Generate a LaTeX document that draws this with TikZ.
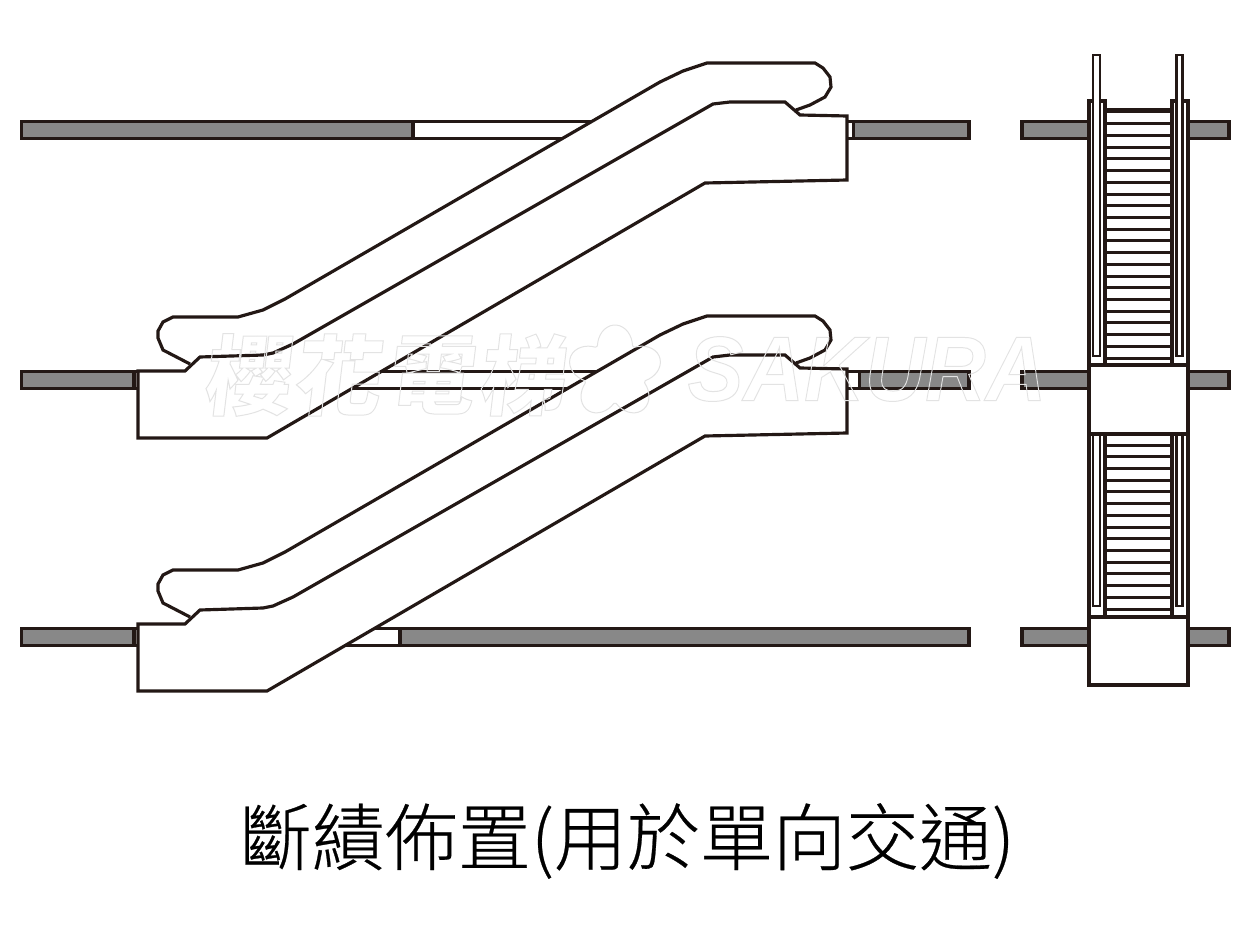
\documentclass[tikz,border=0pt]{standalone}
\usepackage{fontspec}
\newfontfamily\cjkfont{Noto Sans CJK TC}
\newfontfamily\cjklight{Noto Sans CJK TC Light}[FakeBold=0.35]
\newfontfamily\wmlat{Liberation Sans}[BoldFont={Liberation Sans Bold},ItalicFont={Liberation Sans Italic},BoldItalicFont={Liberation Sans Bold Italic}]
\definecolor{ink}{HTML}{231815}
\definecolor{slabgrey}{HTML}{888888}
\definecolor{wmgrey}{HTML}{E2E2E2}
\newcommand{\outlined}[1]{\special{pdf:code 1 Tr 0.6 w 0.89 G}#1\special{pdf:code 0 Tr}}
\tikzset{
  px/.style={x=0.6pt,y=-0.6pt},
  line/.style={draw=ink,line width=1.9pt,line join=miter,miter limit=3},
  slabbar/.style={line,fill=slabgrey},
  gapbar/.style={line,fill=white},
  bodyfill/.style={line,fill=white},
  railbar/.style={draw=ink,line width=1.75pt,fill=white},
  stepline/.style={draw=ink,line width=1.8pt},
  wmark/.style={inner sep=0pt},
  wmline/.style={draw=wmgrey,line width=0.6pt}
}
% one escalator in side view, #1 = vertical offset
\newcommand{\escalator}[1]{%
\begin{scope}[yshift=#1*-0.6pt]
  \path[line,fill=white] (190,364) -- (163,350) -- (158,338) -- (158,331) -- (163,322) -- (173,317) -- (238,317) -- (263,310) -- (285,299) -- (660,82) -- (683,71) -- (707,63) -- (815,63) -- (823,68) -- (830,77) -- (831,87) -- (825,97) -- (810,105) -- (796,110);
  \path[bodyfill] (138,371) -- (185,371) -- (200,357) -- (263,355) -- (273,353) -- (293,344) -- (713,104) -- (730,102) -- (785,102) -- (800,115) -- (847,116) -- (847,180) -- (705,183) -- (267,438) -- (138,438) -- cycle;
\end{scope}}
\newcommand{\slabs}[1]{%
  \path[slabbar] (1022,#1) rectangle (1089,#1+17);
  \path[slabbar] (1188,#1) rectangle (1229,#1+17);
}
\begin{document}
\begin{tikzpicture}[px]
\useasboundingbox (0,0) rectangle (1250,939);
% floor slabs, side view
\path[slabbar] (21.5,121.5) rectangle (413,138.5);
\path[gapbar] (413,121.5) rectangle (620,138.5);
\path[gapbar] (840,121.5) rectangle (853.5,138.5);
\path[slabbar] (853.5,121.5) rectangle (969,138.5);
\path[slabbar] (21.5,371.5) rectangle (134,388.5);
\path[gapbar] (134,371.5) rectangle (145,388.5);
\path[gapbar] (300,371.5) rectangle (700,388.5);
\path[gapbar] (840,371.5) rectangle (859.5,388.5);
\path[slabbar] (859.5,371.5) rectangle (969,388.5);
\path[slabbar] (21.5,628.5) rectangle (134,645.5);
\path[gapbar] (134,628.5) rectangle (145,645.5);
\path[gapbar] (300,628.5) rectangle (400,645.5);
\path[slabbar] (400,628.5) rectangle (969,645.5);
\escalator{0}
\escalator{253}
% front view
\slabs{121.5}
\slabs{371.5}
\slabs{628.5}
\path[bodyfill] (1089,101) rectangle (1105,365);
\path[bodyfill] (1172,101) rectangle (1188,365);
\path[bodyfill] (1105,110) rectangle (1172,365);
\foreach \i in {0,...,21} \draw[stepline] (1105,112+11.72*\i) -- (1172,112+11.72*\i);
\path[railbar] (1093,55) rectangle (1100,356);
\path[railbar] (1176.2,55) rectangle (1182.8,356);
\path[bodyfill] (1089,434) rectangle (1105,617);
\path[bodyfill] (1172,434) rectangle (1188,617);
\foreach \i in {0,...,14} \draw[stepline] (1105,445+11.72*\i) -- (1172,445+11.72*\i);
\path[railbar] (1093,434) rectangle (1100,606);
\path[railbar] (1176.2,434) rectangle (1182.8,606);
\path[bodyfill] (1089,365) rectangle (1188,434);
\path[bodyfill] (1089,617) rectangle (1188,685);
% watermark
\node[wmark,xslant=.12] (w1) at (250,375) {\cjkfont\bfseries\fontsize{52pt}{52pt}\selectfont\outlined{櫻}};
\node[wmark,xslant=.12] (w2) at (340,375) {\cjkfont\bfseries\fontsize{52pt}{52pt}\selectfont\outlined{花}};
\node[wmark,xslant=.12] (w3) at (433,375) {\cjkfont\bfseries\fontsize{52pt}{52pt}\selectfont\outlined{電}};
\node[wmark,xslant=.12] (w4) at (525,375) {\cjkfont\bfseries\fontsize{52pt}{52pt}\selectfont\outlined{梯}};
\draw[wmline] plot[domain=0:356,samples=90,smooth] ({615+(30+17*abs(cos(2.5*(\x-90))))*cos(\x)},{372-(30+17*abs(cos(2.5*(\x-90))))*sin(\x)}) -- cycle;
\node[wmark] (w5) at (867,369) {\scalebox{0.915}[1]{\wmlat\bfseries\itshape\fontsize{55pt}{55pt}\selectfont\outlined{SAKURA}}};
% title
\node[inner sep=0pt,text=black] (title) at (627,841) {\cjklight\fontsize{43.8pt}{50pt}\selectfont 斷績佈置(用於單向交通)};
\end{tikzpicture}
\end{document}
